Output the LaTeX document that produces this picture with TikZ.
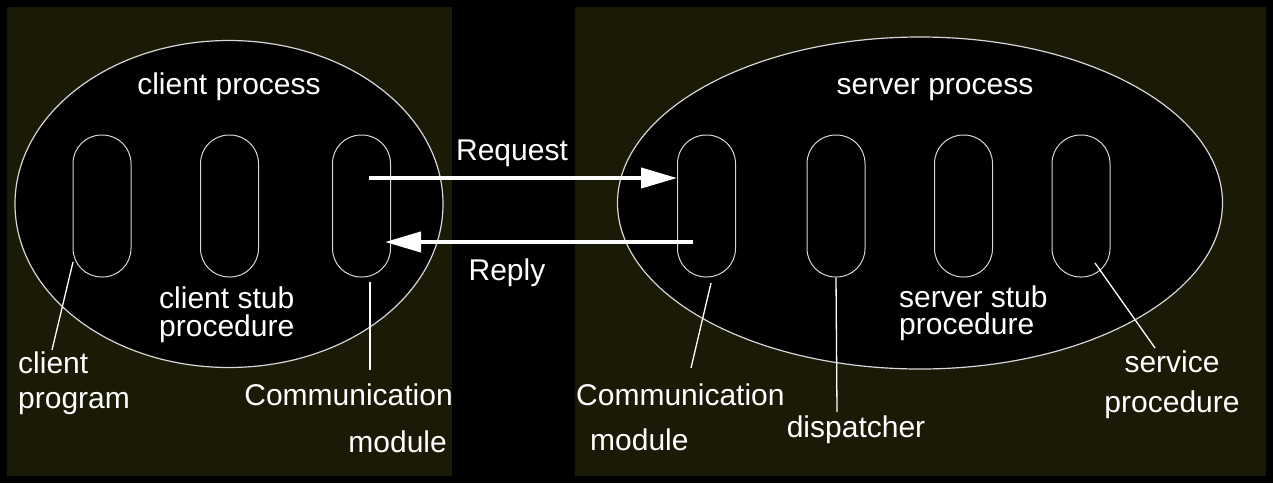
\documentclass[tikz,border=0pt]{standalone}
\usepackage{fontspec}
\setmainfont{Liberation Sans}
\usetikzlibrary{shapes.geometric,arrows.meta}
\definecolor{panel}{RGB}{26,26,6}
\definecolor{rim}{RGB}{215,215,215}
\begin{document}
\begin{tikzpicture}[x=1pt, y=-1pt,
    proc/.style={ellipse, draw=rim, line width=1.2pt, fill=black, inner sep=0pt},
    pill/.style={draw=rim, line width=1pt, rounded corners=28.5pt, minimum width=58pt, minimum height=142pt, inner sep=0pt},
    lbl/.style={text=white, inner sep=0pt, font=\fontsize{30}{30}\selectfont},
    ptr/.style={draw=white, line width=1.3pt},
    msg/.style={draw=white, line width=4pt, -{Triangle[length=36pt,width=20pt]}}]
    \fill[black] (0,0) rectangle (1273,483);
    \fill[panel] (7,7) rectangle (452,476);
    \fill[panel] (575,7) rectangle (1266,476);

    \node[proc, minimum width=428pt, minimum height=327pt] (client) at (229,204) {};
    \node[proc, minimum width=605pt, minimum height=332pt] (server) at (920,203) {};

    \node[pill] (prog) at (102,206) {};
    \node[pill] (cstub) at (229.5,206) {};
    \node[pill] (ccomm) at (361.5,206) {};
    \node[pill] (scomm) at (706.5,206) {};
    \node[pill] (disp) at (836,206) {};
    \node[pill] (sstub) at (963.5,206) {};
    \node[pill] (serv) at (1081,206) {};

    \node[lbl, anchor=base] (clientL) at (229,94) {client process};
    \node[lbl, anchor=base] (serverL) at (935,94) {server process};
    \node[lbl, anchor=base] (reqL) at (512,160) {Request};
    \node[lbl, anchor=base] (repL) at (507,280) {Reply};
    \node[lbl, anchor=base west, align=left] (cstubL) at (159,336) {client stub\\[-2pt]procedure};
    \node[lbl, anchor=base west, align=left] (sstubL) at (899,334) {server stub\\[-3pt]procedure};
    \node[lbl, anchor=base west, align=left] (progL) at (18,408) {client\\[5pt]program};
    \node[lbl, anchor=base east, align=right] (ccommL) at (453,452) {Communication\\[17pt]module\hspace*{6pt}};
    \node[lbl, anchor=base west, align=left] (scommL) at (576,450) {Communication\\[15pt]\hspace*{14pt}module};
    \node[lbl, anchor=base] (dispL) at (856,437) {dispatcher};
    \node[lbl, anchor=base, align=center] (servL) at (1172,412) {service\\[10pt]procedure};

    \coordinate (progTip) at (52,350);
    \coordinate (ccommTip) at (370,370);
    \coordinate (scommTip) at (691,368);
    \coordinate (dispTip) at (837,412);
    \coordinate (servTip) at (1155,348);

    \draw[ptr] ([xshift=-29pt,yshift=-56pt]prog.center) -- (progTip);
    \draw[ptr] ([xshift=8.5pt,yshift=-76pt]ccomm.center) -- (ccommTip);
    \draw[ptr] ([xshift=4.5pt,yshift=-77pt]scomm.center) -- (scommTip);
    \draw[ptr] (disp.south) -- (dispTip);
    \draw[ptr] ([xshift=14pt,yshift=-57pt]serv.center) -- (servTip);

    \draw[msg] ([xshift=7pt,yshift=28pt]ccomm.center) -- ([yshift=28pt]scomm.west);
    \draw[msg] ([xshift=-13.5pt,yshift=-36pt]scomm.center) -- ([xshift=-6pt,yshift=-36pt]ccomm.east);
\end{tikzpicture}
\end{document}
